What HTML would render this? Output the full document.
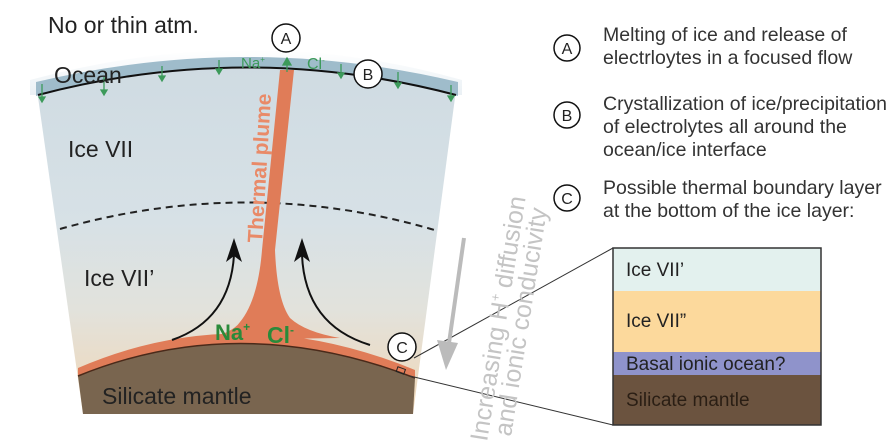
<!DOCTYPE html>
<html><head><meta charset="utf-8"><style>
html,body{margin:0;padding:0;background:#fff;}
svg{display:block;font-family:"Liberation Sans",Arial,sans-serif;}
</style></head><body>
<svg width="892" height="447" viewBox="0 0 892 447" xmlns="http://www.w3.org/2000/svg">
<defs>
<linearGradient id="ice" x1="0" y1="0" x2="0" y2="1">
<stop offset="0" stop-color="#cfdbe2"/>
<stop offset="0.45" stop-color="#d7e1e6"/>
<stop offset="0.7" stop-color="#e2e2dc"/>
<stop offset="1" stop-color="#f1d7b6"/>
</linearGradient>
<linearGradient id="sky" x1="0" y1="0" x2="0" y2="1">
<stop offset="0" stop-color="#ffffff"/>
<stop offset="1" stop-color="#dde7ee"/>
</linearGradient>
</defs>
<rect width="892" height="447" fill="#fff"/>
<path d="M30,80 Q250,20 462,80 L462,95 L30,95Z" fill="url(#sky)" opacity="0.6"/>
<path d="M37,90 Q247,40 456,90 L413,414 L83,414 Z" fill="url(#ice)"/>
<path d="M36,82 Q247,32 458,82 L458,96 Q247,38 36,96Z" fill="#9fbccb"/>
<path d="M38,95 Q247,40 456,95" fill="none" stroke="#111" stroke-width="2"/>
<path d="M60,229 Q250,175 438,231" fill="none" stroke="#222" stroke-width="2" stroke-dasharray="7,5"/>
<path d="M78,376 Q240,310 415,378 L413,414 L83,414Z" fill="#79654f"/>
<path d="M78,368 Q240,298 415,370 L415,378 Q240,310 78,376Z" fill="#e07c58"/>
<path d="M78,376 Q240,310 415,378" fill="none" stroke="#4a2a1a" stroke-width="1.5"/>
<!-- plume -->
<path d="M280,70 L294,70 L275,250 Q277,300 290,318 Q305,332 340,338 L200,340 Q232,334 240,322 Q258,300 262,250 Z" fill="#e07c58"/>
<text transform="translate(262,243) rotate(-86.5)" font-size="21" font-weight="bold" fill="#e98a68">Thermal plume</text>
<g stroke="#3c9a5a" stroke-width="1.3" fill="#3c9a5a">
<line x1="42" y1="84" x2="42" y2="100"/><path d="M39,97 L42,102 L45,97Z"/>
<line x1="104" y1="77" x2="104" y2="93"/><path d="M101,90 L104,95 L107,90Z"/>
<line x1="162" y1="66" x2="162" y2="79"/><path d="M159,76 L162,81 L165,76Z"/>
<line x1="219" y1="60" x2="219" y2="72"/><path d="M216,69 L219,74 L222,69Z"/>
<line x1="341" y1="64" x2="341" y2="76"/><path d="M338,73 L341,78 L344,73Z"/>
<line x1="398" y1="72" x2="398" y2="86"/><path d="M395,83 L398,88 L401,83Z"/>
<line x1="451" y1="85" x2="451" y2="99"/><path d="M448,96 L451,101 L454,96Z"/>
<line x1="287" y1="72" x2="287" y2="62"/><path d="M283,65 L287,58 L291,65Z"/>
</g>
<text x="241" y="68" font-size="15" fill="#3c9a5a">Na<tspan font-size="8" dy="-6">+</tspan></text>
<text x="307" y="69" font-size="16" fill="#3c9a5a">Cl<tspan font-size="8" dy="-6">-</tspan></text>
<text x="48" y="33" font-size="23" fill="#222">No or thin atm.</text>
<text x="54" y="83" font-size="23" fill="#222">Ocean</text>
<text x="68" y="157" font-size="23" fill="#222">Ice VII</text>
<text x="84" y="286" font-size="23" fill="#222">Ice VII’</text>
<text x="102" y="404" font-size="23" fill="#222">Silicate mantle</text>
<text x="215" y="340" font-size="22" font-weight="bold" fill="#2a8a3a">Na<tspan font-size="12" dy="-9">+</tspan></text>
<text x="267" y="343" font-size="23" font-weight="bold" fill="#2a8a3a">Cl<tspan font-size="12" dy="-9">-</tspan></text>
<g fill="none" stroke="#111" stroke-width="2">
<path d="M172,340 Q230,320 234,255"/>
<path d="M370,345 Q305,325 302,255"/>
</g>
<path d="M226,262 L234,238 L242,262 L234,256Z" fill="#111"/>
<path d="M294,262 L302,238 L310,262 L302,256Z" fill="#111"/>
<g fill="#fff" stroke="#111" stroke-width="1.5" font-size="16" text-anchor="middle">
<circle cx="286" cy="38" r="14"/><text x="286" y="44" stroke="none" fill="#222">A</text>
<circle cx="368" cy="74" r="14"/><text x="368" y="80" stroke="none" fill="#222">B</text>
<circle cx="402" cy="347" r="14"/><text x="402" y="353" stroke="none" fill="#222">C</text>
<circle cx="567" cy="48" r="13"/><text x="567" y="54" stroke="none" fill="#222">A</text>
<circle cx="567" cy="115" r="13"/><text x="567" y="121" stroke="none" fill="#222">B</text>
<circle cx="567" cy="198" r="13"/><text x="567" y="204" stroke="none" fill="#222">C</text>
</g>
<rect x="397" y="368" width="8" height="5" fill="none" stroke="#222" stroke-width="1" transform="rotate(20 401 370)"/>
<line x1="414" y1="358" x2="613" y2="248" stroke="#333" stroke-width="1"/>
<line x1="410" y1="376" x2="613" y2="425" stroke="#333" stroke-width="1"/>
<line x1="464" y1="238" x2="448" y2="350" stroke="#bbb" stroke-width="4"/>
<path d="M437,340 L446,370 L458,343Z" fill="#bbb"/>
<text transform="translate(487,442) rotate(-81)" font-size="25" fill="#c4c4c4">Increasing H<tspan font-size="13" dy="-10">+</tspan><tspan dy="10"> diffusion</tspan></text>
<text transform="translate(511,437) rotate(-81)" font-size="25" fill="#c4c4c4">and ionic conducivity</text>
<g font-size="19.5" fill="#333">
<text x="603" y="41">Melting of ice and release of</text>
<text x="603" y="64">electrloytes in a focused flow</text>
<text x="603" y="110">Crystallization of ice/precipitation</text>
<text x="603" y="133">of electrolytes all around the</text>
<text x="603" y="156">ocean/ice interface</text>
<text x="603" y="194">Possible thermal boundary layer</text>
<text x="603" y="217">at the bottom of the ice layer:</text>
</g>
<rect x="613" y="248" width="208" height="43" fill="#e3f1ee"/>
<rect x="613" y="291" width="208" height="61" fill="#fcd99c"/>
<rect x="613" y="352" width="208" height="23" fill="#8f93cb"/>
<rect x="613" y="375" width="208" height="50" fill="#6b533f"/>
<rect x="613" y="248" width="208" height="177" fill="none" stroke="#333" stroke-width="1.5"/>
<g font-size="19" fill="#222">
<text x="626" y="276">Ice VII’</text>
<text x="626" y="327">Ice VII”</text>
<text x="626" y="370">Basal ionic ocean?</text>
<text x="626" y="406" fill="#2a1e14">Silicate mantle</text>
</g>
</svg>
</body></html>
